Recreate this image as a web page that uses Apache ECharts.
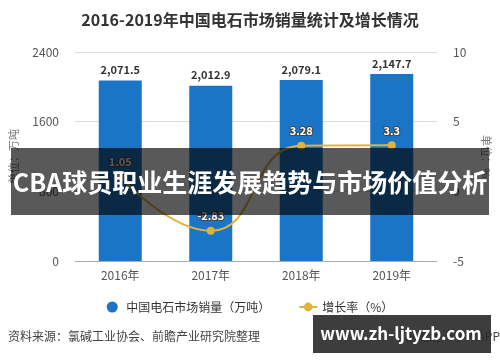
<!DOCTYPE html>
<html>
<head>
<meta charset="utf-8">
<script src="https://cdn.jsdelivr.net/npm/echarts@6/dist/echarts.min.js"></script>
<style>html,body{margin:0;padding:0;background:#fff}#c{width:500px;height:362px}</style>
</head>
<body>
<div id="c"></div>
<script>
const categories = ['2016年', '2017年', '2018年', '2019年'];
const salesValues = [2071.5, 2012.9, 2079.1, 2147.7];
const growthValues = [1.05, -2.83, 3.28, 3.3];
const leftTicks = { min: 0, max: 2400, interval: 800 };
const rightTicks = { min: -5, max: 10, interval: 5 };

const FONT = '"Noto Sans CJK SC", "Microsoft YaHei", sans-serif';
const chart = echarts.init(document.getElementById('c'), null, { renderer: 'canvas' });
chart.setOption({
  backgroundColor: '#fff',
  textStyle: { fontFamily: FONT },
  title: {
    text: '2016-2019年中国电石市场销量统计及增长情况',
    left: 'center', top: 7,
    textStyle: { fontSize: 16, fontWeight: 'bold', color: '#333', fontFamily: FONT }
  },
  legend: {
    bottom: 44, left: 'center', itemGap: 28, itemWidth: 18, itemHeight: 11,
    textStyle: { fontSize: 12, color: '#333', fontFamily: FONT },
    data: [
      { name: '中国电石市场销量（万吨）', icon: 'circle' },
      { name: '增长率（%）' }
    ]
  },
  grid: { left: 72, right: 60, top: 52, bottom: 101 },
  xAxis: {
    type: 'category', data: categories,
    axisLine: { lineStyle: { color: '#aaa' } },
    axisTick: { alignWithLabel: true, lineStyle: { color: '#aaa' } },
    axisLabel: { fontSize: 12, color: '#555', margin: 8, fontFamily: FONT }
  },
  yAxis: [
    {
      type: 'value', min: leftTicks.min, max: leftTicks.max, interval: leftTicks.interval,
      name: '单位：万吨', nameLocation: 'middle', nameRotate: 90, nameGap: 56,
      nameTextStyle: { fontSize: 11, color: '#777', fontFamily: FONT },
      axisLine: { show: false }, axisTick: { show: false },
      axisLabel: { fontSize: 12, color: '#555', margin: 16, formatter: v => String(v) },
      splitLine: { lineStyle: { color: '#ddd' } }
    },
    {
      type: 'value', min: rightTicks.min, max: rightTicks.max, interval: rightTicks.interval,
      name: '单位：%', nameLocation: 'middle', nameRotate: 270, nameGap: 44,
      nameTextStyle: { fontSize: 11, color: '#777', fontFamily: FONT },
      axisLine: { show: false }, axisTick: { show: false },
      axisLabel: { fontSize: 12, color: '#555', margin: 16 },
      splitLine: { show: false }
    }
  ],
  series: [
    {
      name: '中国电石市场销量（万吨）', type: 'bar', data: salesValues, barWidth: 43,
      itemStyle: { color: '#1b75c6' },
      label: {
        show: true, position: 'top', fontSize: 11, fontWeight: 'bold', color: '#333',
        formatter: p => p.value.toLocaleString('en-US', { minimumFractionDigits: 1 })
      }
    },
    {
      name: '增长率（%）', type: 'line', yAxisIndex: 1, data: growthValues, smooth: true,
      symbol: 'circle', symbolSize: 8,
      lineStyle: { color: '#e3b23c', width: 2 },
      itemStyle: { color: '#e3b23c' },
      label: {
        show: true, position: 'top', fontSize: 11, fontWeight: 'bold', color: '#fff',
        textBorderColor: '#444', textBorderWidth: 2, distance: 5
      }
    }
  ],
  graphic: [
    {
      type: 'text', left: 8, top: 330,
      style: { text: '资料来源：氯碱工业协会、前瞻产业研究院整理', fill: '#444', font: '12px ' + FONT }
    },
    {
      type: 'text', right: 0, top: 330,
      style: { text: '前瞻经济学人APP', fill: '#444', font: '12px ' + FONT }
    },
    {
      type: 'rect', shape: { x: 11, y: 148, width: 478, height: 67 },
      style: { fill: 'rgba(0,0,0,0.65)' }, z: 100
    },
    {
      type: 'text', x: 250, y: 182, z: 101,
      style: { text: 'CBA球员职业生涯发展趋势与市场价值分析', fill: '#fff', align: 'center', verticalAlign: 'middle',
               font: 'bold 25px ' + FONT }
    },
    {
      type: 'rect', shape: { x: 313, y: 315, width: 178, height: 38 },
      style: { fill: 'rgba(40,40,40,0.9)' }, z: 100
    },
    {
      type: 'text', x: 401, y: 334, z: 101,
      style: { text: 'www.zh-ljtyzb.com', fill: '#fff', align: 'center', verticalAlign: 'middle',
               font: 'bold 17px ' + FONT }
    }
  ]
});
</script>
</body>
</html>
